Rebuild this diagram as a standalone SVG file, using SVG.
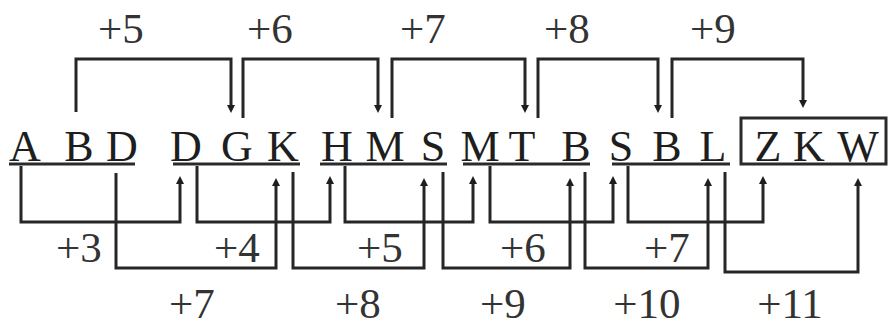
<svg xmlns="http://www.w3.org/2000/svg" width="892" height="326" viewBox="0 0 892 326">
<style>
.l{font-family:"Liberation Serif","Times New Roman",serif;font-size:44px;fill:#1e1e1e;text-anchor:middle}
.n{font-family:"Liberation Serif","Times New Roman",serif;font-size:43px;fill:#333;text-anchor:middle}
.u{stroke:#2a2a2a;stroke-width:3;fill:none}
.c{stroke:#262626;stroke-width:3;fill:none;marker-end:url(#ah)}
</style>
<defs>
<marker id="ah" markerUnits="userSpaceOnUse" markerWidth="8" markerHeight="8" viewBox="0 0 8 8" refX="1" refY="4" orient="auto">
<path d="M0,0 L8,4 L0,8 z" fill="#1e1e1e"/>
</marker>
</defs>
<rect width="892" height="326" fill="#fff"/>
<g id="group1">
<text class="l" x="25" y="161">A</text><text class="l" x="79" y="161">B</text><text class="l" x="122" y="161">D</text>
<line class="u" x1="9" y1="164" x2="135" y2="164"/>
</g>
<g id="group2">
<text class="l" x="186" y="161">D</text><text class="l" x="237" y="161">G</text><text class="l" x="283" y="161">K</text>
<line class="u" x1="173" y1="164" x2="300" y2="164"/>
</g>
<g id="group3">
<text class="l" x="337" y="161">H</text><text class="l" x="385" y="161">M</text><text class="l" x="433" y="161">S</text>
<line class="u" x1="320" y1="164" x2="447" y2="164"/>
</g>
<g id="group4">
<text class="l" x="480" y="161">M</text><text class="l" x="522" y="161">T</text><text class="l" x="576" y="161">B</text>
<line class="u" x1="463" y1="164" x2="590" y2="164"/>
</g>
<g id="group5">
<text class="l" x="621" y="161">S</text><text class="l" x="667" y="161">B</text><text class="l" x="713" y="161">L</text>
<line class="u" x1="612" y1="164" x2="730" y2="164"/>
</g>
<g id="group6">
<rect class="u" x="741" y="118" width="145" height="46"/>
<text class="l" x="768" y="161">Z</text><text class="l" x="809" y="161">K</text><text class="l" x="858" y="161">W</text>
</g>
<g id="connectors">
<path class="c" d="M76 112 V59 H231 V106"/>
<path class="c" d="M243 118 V59 H378 V106"/>
<path class="c" d="M392 118 V59 H525 V106"/>
<path class="c" d="M538 118 V59 H658 V106"/>
<path class="c" d="M672 118 V59 H803 V101"/>
<path class="c" d="M21 166 V222 H180 V183"/>
<path class="c" d="M116 173 V268 H276 V185"/>
<path class="c" d="M197 166 V222 H330 V183"/>
<path class="c" d="M293 172 V268 H424 V185"/>
<path class="c" d="M345 166 V222 H473 V183"/>
<path class="c" d="M443 172 V268 H570 V185"/>
<path class="c" d="M490 166 V222 H613 V183"/>
<path class="c" d="M585 172 V268 H708 V185"/>
<path class="c" d="M628 166 V222 H763 V183"/>
<path class="c" d="M725 172 V272 H858 V185"/>
</g>
<g id="labels">
<text class="n" x="121" y="43">+5</text><text class="n" x="270" y="43">+6</text><text class="n" x="423" y="43">+7</text><text class="n" x="567" y="43">+8</text><text class="n" x="713" y="43">+9</text>
<text class="n" x="79" y="262">+3</text><text class="n" x="237" y="262">+4</text><text class="n" x="380" y="262">+5</text><text class="n" x="523" y="262">+6</text><text class="n" x="667" y="262">+7</text>
<text class="n" x="192" y="318">+7</text><text class="n" x="358" y="318">+8</text><text class="n" x="503" y="318">+9</text><text class="n" x="647" y="318">+10</text><text class="n" x="790" y="318">+11</text>
</g>
</svg>
